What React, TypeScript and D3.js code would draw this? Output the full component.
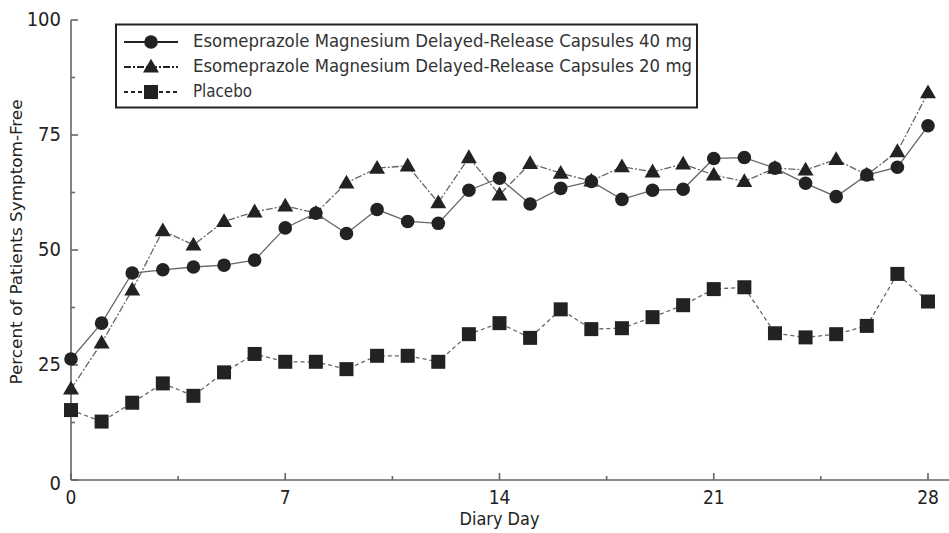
import * as d3 from 'd3';

// Diary day 0..28
const days = [0, 1, 2, 3, 4, 5, 6, 7, 8, 9, 10, 11, 12, 13, 14, 15, 16, 17, 18, 19, 20, 21, 22, 23, 24, 25, 26, 27, 28];

const esome40 = [26.3, 34.1, 45, 45.7, 46.3, 46.7, 47.8, 54.8, 58, 53.6, 58.8, 56.2, 55.8, 63, 65.6, 60, 63.4, 64.9, 61, 63, 63.2, 69.9, 70.1, 67.8, 64.5, 61.6, 66.3, 68, 77];
const esome20 = [19.8, 29.8, 41.3, 54.2, 51.1, 56.2, 58.3, 59.6, 58, 64.6, 67.8, 68.3, 60.3, 70.1, 62, 68.8, 66.7, 65, 68.1, 67, 68.7, 66.3, 64.9, 67.8, 67.4, 69.7, 66.3, 71.4, 84.2];
const placebo = [15.2, 12.7, 16.8, 21, 18.3, 23.4, 27.4, 25.7, 25.7, 24.1, 27, 27, 25.7, 31.7, 34.1, 30.9, 37.1, 32.8, 33, 35.4, 38, 41.5, 41.9, 31.9, 31, 31.7, 33.5, 44.8, 38.8];

const yTicks = [0, 25, 50, 75, 100];
const yMinor = [12.5, 37.5, 62.5, 87.5];
const xTicks = [0, 7, 14, 21, 28];
const xMinor = [3.5, 10.5, 17.5, 24.5];

const legendLabels = [
  'Esomeprazole Magnesium Delayed-Release  Capsules 40 mg',
  'Esomeprazole Magnesium Delayed-Release  Capsules 20 mg',
  'Placebo',
];

const width = 949,
  height = 533;
const font = "'Liberation Sans Narrow', 'DejaVu Sans Condensed', 'Roboto Condensed', 'Arial Narrow', sans-serif";
const ink = '#222';
const lineColor = '#666';

type Marker = 'circle' | 'triangle' | 'square';

function Symbol({ kind, x, y }: { kind: Marker; x: number; y: number }) {
  if (kind === 'circle') return <circle cx={x} cy={y} r={6.8} fill={ink} />;
  if (kind === 'square') return <rect x={x - 7} y={y - 7} width={14} height={14} fill={ink} />;
  const tri = d3.symbol().type(d3.symbolTriangle).size(110)();
  return <path d={tri!} transform={`translate(${x},${y + 1})`} fill={ink} />;
}

export default function App() {
  const x = d3.scaleLinear().domain([0, 28]).range([71, 928]);
  const y = d3.scaleLinear().domain([0, 100]).range([480, 20]);

  const series: { values: number[]; marker: Marker; dash: string }[] = [
    { values: placebo, marker: 'square', dash: '4,3' },
    { values: esome20, marker: 'triangle', dash: '7,2,2,2' },
    { values: esome40, marker: 'circle', dash: 'none' },
  ];

  const line = d3
    .line<number>()
    .x((_, i) => x(days[i]))
    .y((d) => y(d));

  const legendSeries: { marker: Marker; dash: string }[] = [
    { marker: 'circle', dash: 'none' },
    { marker: 'triangle', dash: '7,2,2,2' },
    { marker: 'square', dash: '4,3' },
  ];

  return (
    <svg
      width={width}
      height={height}
      viewBox={`0 0 ${width} ${height}`}
      style={{ position: 'absolute', left: 0, top: 0, background: '#fff' }}
      fontFamily={font}
    >
      {/* y axis */}
      <g stroke={lineColor} strokeWidth={1.6}>
        <line x1={x(0)} x2={x(0)} y1={y(100)} y2={y(0)} />
        {yTicks.map((t) => (
          <line key={t} x1={x(0)} x2={x(0) + 7} y1={y(t)} y2={y(t)} />
        ))}
        {yMinor.map((t) => (
          <line key={t} x1={x(0)} x2={x(0) + 4} y1={y(t)} y2={y(t)} />
        ))}
      </g>
      {yTicks.map((t) => (
        <text
          key={t}
          x={x(0) - 10}
          y={t === 0 ? y(t) + 4 : y(t)}
          textAnchor="end"
          dominantBaseline="middle"
          fontSize={20}
          fill={ink}
        >
          {t}
        </text>
      ))}
      <text
        transform={`translate(22, ${y(50) - 8}) rotate(-90)`}
        textAnchor="middle"
        fontSize={16}
        fill={ink}
        textLength={285}
        lengthAdjust="spacingAndGlyphs"
      >
        Percent of Patients Symptom-Free
      </text>

      {/* x axis */}
      <g stroke={lineColor} strokeWidth={1.6}>
        <line x1={x(0)} x2={width} y1={y(0)} y2={y(0)} />
        {xTicks.map((t) => (
          <line key={t} x1={x(t)} x2={x(t)} y1={y(0)} y2={y(0) - 7} />
        ))}
        {xMinor.map((t) => (
          <line key={t} x1={x(t)} x2={x(t)} y1={y(0)} y2={y(0) - 4} />
        ))}
      </g>
      {xTicks.map((t) => (
        <text key={t} x={x(t)} y={y(0) + 24} textAnchor="middle" fontSize={19} fill={ink}>
          {t}
        </text>
      ))}
      <text
        x={x(14)}
        y={y(0) + 45}
        textAnchor="middle"
        fontSize={17}
        fill={ink}
        textLength={80}
        lengthAdjust="spacingAndGlyphs"
      >
        Diary Day
      </text>

      {/* series */}
      {series.map((s, si) => (
        <g key={si}>
          <path d={line(s.values)!} fill="none" stroke={lineColor} strokeWidth={1.3} strokeDasharray={s.dash} />
          {s.values.map((v, i) => (
            <Symbol key={i} kind={s.marker} x={x(days[i])} y={y(v)} />
          ))}
        </g>
      ))}

      {/* legend */}
      <rect x={116} y={24.5} width={581} height={83} fill="#fff" stroke={ink} strokeWidth={2} />
      {legendLabels.map((label, i) => {
        const ly = 42 + i * 25;
        return (
          <g key={label}>
            <line x1={124} x2={178} y1={ly} y2={ly} stroke={ink} strokeWidth={2} strokeDasharray={legendSeries[i].dash} />
            <Symbol kind={legendSeries[i].marker} x={151} y={ly} />
            <text
              x={193}
              y={ly}
              dominantBaseline="middle"
              fontSize={18}
              fill="#333"
              textLength={i < 2 ? 499 : 59}
              lengthAdjust="spacingAndGlyphs"
            >
              {label}
            </text>
          </g>
        );
      })}
    </svg>
  );
}
